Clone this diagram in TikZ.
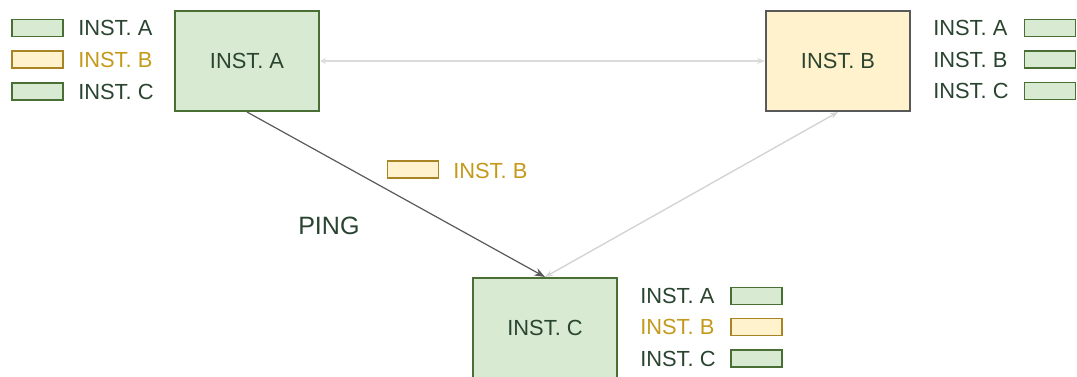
\documentclass[tikz,border=0pt]{standalone}
\usepackage{fontspec}
\setmainfont{Liberation Sans}
\usetikzlibrary{arrows.meta}

\definecolor{instgreen}{HTML}{D9EAD3}
\definecolor{instgreenline}{HTML}{4A6F35}
\definecolor{instyellow}{HTML}{FFF2CC}
\definecolor{instyellowline}{HTML}{A88424}
\definecolor{instgold}{HTML}{C49A1C}
\definecolor{insttext}{HTML}{29442F}
\definecolor{linkgray}{HTML}{D2D2D2}

\begin{document}
\begin{tikzpicture}[x=0.75pt, y=-0.75pt,
	font=\fontsize{16.4}{18}\selectfont, text=insttext,
	instbox/.style={draw, line width=1.5pt, minimum width=108pt, minimum height=75pt, inner sep=0pt},
	greeninst/.style={instbox, draw=instgreenline, fill=instgreen},
	yellowinst/.style={instbox, draw=black!65, fill=instyellow},
	tag/.style={draw, line width=1.1pt, minimum width=38pt, minimum height=13pt, inner sep=0pt},
	greentag/.style={tag, draw=instgreenline, fill=instgreen},
	yellowtag/.style={tag, draw=instyellowline, fill=instyellow},
	label/.style={anchor=west, inner sep=0pt},
	goldlabel/.style={label, text=instgold}]
	\clip (0,0) rectangle (1077,376);
	% Instances
	\node[greeninst] (instA) at (247,61) {INST. A};
	\node[yellowinst] (instB) at (838,61) {INST. B};
	\node[greeninst] (instC) at (545,328) {INST. C};
	% Table seen by A
	\node[greentag] (a1) at (37.5,28) {};
	\node[yellowtag] (a2) at (37.5,59.5) {};
	\node[greentag] (a3) at (37.5,91.5) {};
	\node[label] (la1) at (78,28) {INST. A};
	\node[goldlabel] (la2) at (78,59.5) {INST. B};
	\node[label] (la3) at (78,91.5) {INST. C};
	% Table seen by B
	\node[label] (lb1) at (933,28) {INST. A};
	\node[label] (lb2) at (933,59.5) {INST. B};
	\node[label] (lb3) at (933,91) {INST. C};
	\node[greentag] (b1) at (1050,28) {};
	\node[greentag] (b2) at (1050,59.5) {};
	\node[greentag] (b3) at (1050,91) {};
	% Table seen by C
	\node[label] (lc1) at (640,296) {INST. A};
	\node[goldlabel] (lc2) at (640,327) {INST. B};
	\node[label] (lc3) at (640,358.5) {INST. C};
	\node[greentag] (c1) at (756.5,296) {};
	\node[yellowtag] (c2) at (756.5,327) {};
	\node[greentag] (c3) at (756.5,358.5) {};
	% Message
	\node[yellowtag] (msg) at (413,169.5) {};
	\node[goldlabel] (lmsg) at (453,171) {INST. B};
	\node[anchor=west, inner sep=0pt, font=\fontsize{18.8}{20}\selectfont] (ping) at (298,226) {PING};
	% Links
	\draw[linkgray!80, line width=1pt, {Triangle[open, length=4pt, width=4pt]}-{Stealth[length=6pt, width=4.5pt]}] (instA.east) -- (instB.west);
	\draw[linkgray, line width=1pt, {Stealth[length=6pt, width=4.5pt]}-{Stealth[length=6pt, width=4.5pt]}] (instB.south) -- (instC.north);
	\draw[black!65, line width=0.9pt, -{Stealth[length=8pt, width=6pt]}] (instA.south) -- (instC.north);
\end{tikzpicture}
\end{document}
